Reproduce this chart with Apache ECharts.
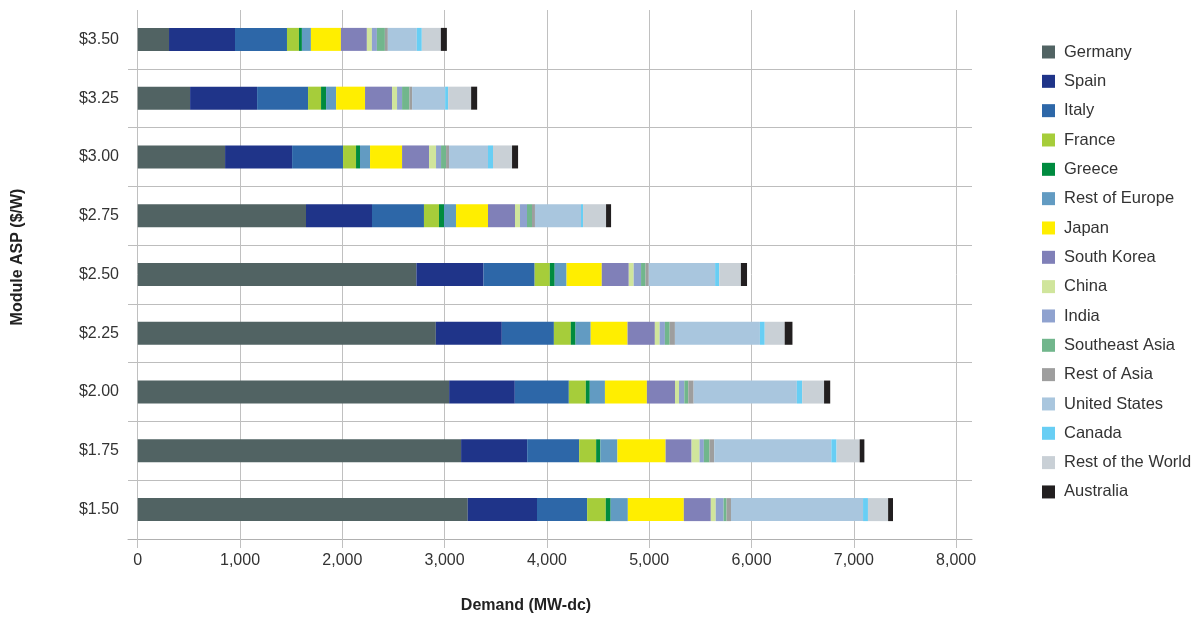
<!DOCTYPE html>
<html>
<head>
<meta charset="utf-8">
<script src="https://cdn.jsdelivr.net/npm/echarts@6/dist/echarts.min.js"></script>
<style>
html,body{margin:0;padding:0;background:#fff;}
#chart{width:1200px;height:621px;}
</style>
</head>
<body>
<div id="chart"></div>
<script>
const categories = ['$3.50', '$3.25', '$3.00', '$2.75', '$2.50', '$2.25', '$2.00', '$1.75', '$1.50'];
const xTicks = [0, 1000, 2000, 3000, 4000, 5000, 6000, 7000, 8000];

const germany   = [306, 512, 854, 1645, 2724, 2914, 3044, 3161, 3226];
const spain     = [645, 655, 655, 645, 656, 645, 642, 646, 677];
const italy     = [508, 498, 498, 508, 500, 509, 528, 508, 490];
const france    = [117, 127, 127, 147, 148, 165, 166, 166, 182];
const greece    = [29, 49, 39, 49, 48, 47, 39, 42, 48];
const restEurope= [88, 98, 98, 117, 116, 148, 148, 166, 168];
const japan     = [293, 283, 313, 313, 344, 360, 410, 471, 547];
const southKorea= [254, 264, 264, 264, 264, 267, 275, 254, 264];
const china     = [49, 49, 68, 49, 48, 47, 39, 78, 48];
const india     = [49, 49, 49, 68, 72, 51, 52, 42, 77];
const seAsia    = [78, 72, 49, 49, 44, 47, 39, 55, 29];
const restAsia  = [29, 26, 29, 29, 32, 51, 52, 46, 43];
const us        = [283, 323, 381, 450, 648, 831, 1009, 1145, 1291];
const canada    = [49, 29, 49, 20, 40, 47, 52, 51, 48];
const restWorld = [186, 225, 186, 225, 212, 195, 214, 226, 197];
const australia = [59, 59, 59, 49, 60, 76, 60, 46, 48];

const seriesNames = ['Germany','Spain','Italy','France','Greece','Rest of Europe','Japan','South Korea','China','India','Southeast Asia','Rest of Asia','United States','Canada','Rest of the World','Australia'];
const seriesData = [germany, spain, italy, france, greece, restEurope, japan, southKorea, china, india, seAsia, restAsia, us, canada, restWorld, australia];
const colors = ['#516363','#1f3489','#2d67a8','#a6cd3a','#008b3f','#629bc2','#ffee00','#8080b8','#d0e59c','#8fa2cf','#71b68c','#9e9e9e','#a9c6de','#68cef4','#c9d0d6','#221f20'];

const FONT = "'Liberation Sans', Arial, sans-serif";

const chart = echarts.init(document.getElementById('chart'), null, {renderer: 'canvas'});
chart.setOption({
  animation: false,
  color: colors,
  textStyle: {fontFamily: FONT},
  grid: {left: 128, top: 10, width: 844, height: 529, containLabel: false},
  legend: {
    orient: 'vertical',
    left: 1037,
    top: 37,
    itemWidth: 13,
    itemHeight: 13,
    itemGap: 9.33,
    icon: 'rect',
    data: seriesNames,
    textStyle: {fontFamily: FONT, fontSize: 16.5, color: '#333', lineHeight: 20, padding: [0,0,0,4]}
  },
  xAxis: {
    type: 'value',
    min: -95,
    max: 8155,
    axisLine: {show: true, lineStyle: {color: '#b0b0b0', width: 1}},
    axisTick: {show: true, length: 9, customValues: xTicks, lineStyle: {color: '#c0c0c0'}},
    splitLine: {show: true, lineStyle: {color: '#c0c0c0', width: 1}},
    axisLabel: {
      customValues: xTicks,
      margin: 14,
      fontSize: 16,
      color: '#333',
      fontFamily: FONT,
      formatter: v => v.toLocaleString('en-US')
    }
  },
  yAxis: {
    type: 'category',
    inverse: true,
    data: categories,
    axisLine: {show: false},
    axisTick: {show: false},
    splitLine: {show: true, interval: (i) => i !== 0, lineStyle: {color: '#bdbdbd', width: 1}},
    axisLabel: {margin: 9, fontSize: 16, color: '#333', fontFamily: FONT}
  },
  graphic: [
    {type: 'text', x: 18, y: 257, rotation: Math.PI / 2,
     style: {text: 'Module ASP ($/W)', font: "bold 16px " + FONT, fill: '#222', align: 'center', verticalAlign: 'middle'}},
    {type: 'text', x: 526, y: 606,
     style: {text: 'Demand (MW-dc)', font: "bold 16px " + FONT, fill: '#222', align: 'center', verticalAlign: 'middle'}}
  ],
  series: seriesNames.map((n, i) => ({
    name: n,
    type: 'bar',
    stack: 'total',
    barWidth: 23,
    data: seriesData[i],
    itemStyle: {color: colors[i]}
  }))
});
</script>
</body>
</html>
